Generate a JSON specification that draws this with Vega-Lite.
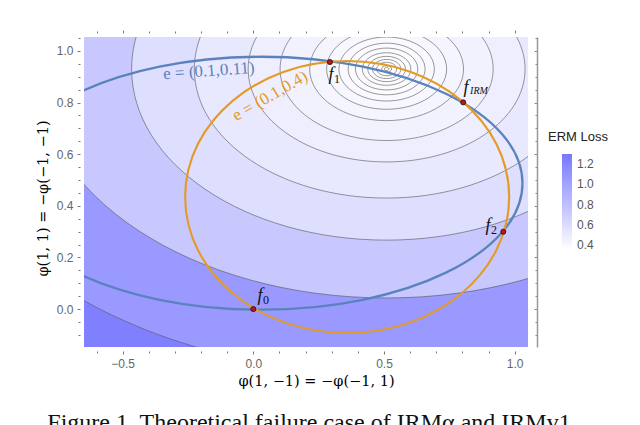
{
  "$schema": "https://vega.github.io/schema/vega-lite/v6.json",
  "width": 444,
  "height": 310,
  "autosize": {"type": "none"},
  "padding": {"left": 84, "top": 37, "right": 112, "bottom": 78},
  "background": "#ffffff",
  "title": {"text": "Figure 1. Theoretical failure case of IRMα and IRMv1.", "orient": "bottom", "anchor": "middle", "frame": "group", "font": "Liberation Serif", "fontSize": 24, "fontWeight": "normal", "color": "#111111", "offset": 23, "dx": 6},
  "config": {"view": {"stroke": null, "fill": "#8080ff"}, "font": "Liberation Sans"},
  "datasets": {
    "contours_outer": [
      {"x": 0.51, "y": 0.93, "b": 1.18, "loss": 1.07},
      {"x": 0.51, "y": 0.93, "b": 0.887, "loss": 0.74}
    ],
    "contours_inner": [
      {"x": 0.51, "y": 0.93, "b": 0.663, "loss": 0.585},
      {"x": 0.51, "y": 0.93, "b": 0.5, "loss": 0.515},
      {"x": 0.51, "y": 0.93, "b": 0.36, "loss": 0.47},
      {"x": 0.51, "y": 0.93, "b": 0.277, "loss": 0.44},
      {"x": 0.51, "y": 0.93, "b": 0.2, "loss": 0.42},
      {"x": 0.51, "y": 0.93, "b": 0.156, "loss": 0.405},
      {"x": 0.51, "y": 0.93, "b": 0.124, "loss": 0.395},
      {"x": 0.51, "y": 0.93, "b": 0.1, "loss": 0.385},
      {"x": 0.51, "y": 0.93, "b": 0.081, "loss": 0.378},
      {"x": 0.51, "y": 0.93, "b": 0.063, "loss": 0.372},
      {"x": 0.51, "y": 0.93, "b": 0.049, "loss": 0.367},
      {"x": 0.51, "y": 0.93, "b": 0.037, "loss": 0.363},
      {"x": 0.51, "y": 0.93, "b": 0.026, "loss": 0.36},
      {"x": 0.51, "y": 0.93, "b": 0.013, "loss": 0.357},
      {"x": 0.51, "y": 0.93, "b": 0.006, "loss": 0.355}
    ],
    "blue": [{"x": 0.03, "y": 0.4875, "b": 0.49}],
    "orange": [{"x": 0.359, "y": 0.434, "b": 0.527}],
    "blue_label": [{"x": -0.17, "y": 0.922, "label": "e = (0.1,0.11)"}],
    "orange_label": [{"x": 0.064, "y": 0.825, "label": "e = (0.1,0.4)"}],
    "points": [
      {"x": 0.0, "y": 0.0, "name": "f0"},
      {"x": 0.293, "y": 0.957, "name": "f1"},
      {"x": 0.803, "y": 0.801, "name": "fIRM"},
      {"x": 0.9565, "y": 0.2997, "name": "f2"}
    ],
    "point_labels": [
      {"x": 0.0255, "y": 0.0506, "sub": "0"},
      {"x": 0.297, "y": 0.907, "sub": "1"},
      {"x": 0.814, "y": 0.856, "sub": "IRM"},
      {"x": 0.898, "y": 0.322, "sub": "2"}
    ],
    "subs_digits": [
      {"x": 0.0255, "y": 0.0506, "sub": "0"},
      {"x": 0.297, "y": 0.907, "sub": "1"},
      {"x": 0.898, "y": 0.322, "sub": "2"}
    ],
    "subs_irm": [
      {"x": 0.814, "y": 0.856, "sub": "IRM"}
    ]
  },
  "resolve": {"axis": {"x": "independent", "y": "independent"}},
  "layer": [
    {
      "data": {"name": "contours_outer"},
      "mark": {"type": "point", "shape": "M1.53,0C1.53,0.5523,0.845,1,0,1C-0.845,1,-1.53,0.5523,-1.53,0C-1.53,-0.5523,-0.845,-1,0,-1C0.845,-1,1.53,-0.5523,1.53,0Z", "filled": true, "stroke": "#555555", "strokeWidth": 0.7, "strokeOpacity": 0.85, "opacity": 1, "clip": true},
      "encoding": {
        "x": {"field": "x", "type": "quantitative", "scale": {"domain": [-0.648, 1.051], "nice": false, "zero": false},
          "axis": {"orient": "bottom", "values": [-0.6, -0.5, -0.4, -0.3, -0.2, -0.1, 0, 0.1, 0.2, 0.3, 0.4, 0.5, 0.6, 0.7, 0.8, 0.9, 1.0], "domain": false, "grid": false, "offset": 4,
            "tickSize": {"condition": {"test": "abs(datum.value*2-round(datum.value*2))<0.001", "value": 3}, "value": 2},
            "tickColor": "#777777", "tickWidth": 1,
            "labelExpr": "abs(datum.value*2-round(datum.value*2))<0.001 ? format(datum.value,'.1f') : ''",
            "labelOverlap": false, "labelFlush": false, "labelFont": "Liberation Sans", "labelFontSize": 12, "labelColor": "#666666", "labelPadding": 4,
            "title": "φ(1, −1) = −φ(−1, 1)", "titleFont": "DejaVu Serif", "titleFontSize": 14.5, "titleFontWeight": "normal", "titleColor": "#000000", "titlePadding": 5, "titleX": 232}},
        "y": {"field": "y", "type": "quantitative", "scale": {"domain": [-0.147, 1.054], "nice": false, "zero": false},
          "axis": {"orient": "left", "values": [-0.1, -0.05, 0, 0.05, 0.1, 0.15, 0.2, 0.25, 0.3, 0.35, 0.4, 0.45, 0.5, 0.55, 0.6, 0.65, 0.7, 0.75, 0.8, 0.85, 0.9, 0.95, 1.0, 1.05], "domain": false, "grid": false, "offset": 4,
            "tickSize": {"condition": {"test": "abs(datum.value*5-round(datum.value*5))<0.001", "value": 3}, "value": 2},
            "tickColor": "#777777", "tickWidth": 1,
            "labelExpr": "abs(datum.value*5-round(datum.value*5))<0.001 ? format(datum.value,'.1f') : ''",
            "labelOverlap": false, "labelFlush": false, "labelFont": "Liberation Sans", "labelFontSize": 12, "labelColor": "#666666", "labelPadding": 4,
            "title": "φ(1, 1) = −φ(−1, −1)", "titleFont": "DejaVu Serif", "titleFontSize": 14.5, "titleFontWeight": "normal", "titleColor": "#000000", "titlePadding": 6, "titleY": 161}},
        "size": {"field": "b", "type": "quantitative", "scale": {"type": "pow", "exponent": 2, "domain": [0, 1], "range": [0, 266506], "zero": true}, "legend": null},
        "fill": {"field": "loss", "type": "quantitative", "scale": {"domain": [0.35, 1.3], "range": ["#ffffff", "#7878ff"], "interpolate": "rgb"},
          "legend": {"orient": "none", "legendX": 464, "legendY": 94, "title": "ERM Loss", "titleFont": "Liberation Sans", "titleFontSize": 13, "titleFontWeight": "normal", "titleColor": "#222222", "titleAnchor": "middle", "titlePadding": 10, "gradientLength": 96, "gradientThickness": 10, "gradientStrokeWidth": 0, "labelFont": "Liberation Sans", "labelFontSize": 12, "labelColor": "#555555", "labelOffset": 5, "labelOverlap": false, "values": [0.4, 0.6, 0.8, 1.0, 1.2], "format": ".1f", "direction": "vertical", "padding": 0}}
      }
    },
    {
      "data": {"name": "contours_inner"},
      "mark": {"type": "point", "shape": "M1.49,0C1.49,0.5523,0.8229,1,0,1C-0.8229,1,-1.49,0.5523,-1.49,0C-1.49,-0.5523,-0.8229,-1,0,-1C0.8229,-1,1.49,-0.5523,1.49,0Z", "filled": true, "stroke": "#555555", "strokeWidth": 0.7, "strokeOpacity": 0.85, "opacity": 1, "clip": true},
      "encoding": {
        "x": {"field": "x", "type": "quantitative", "scale": {"domain": [-0.648, 1.051], "nice": false, "zero": false},
          "axis": {"orient": "top", "values": [-0.6, -0.5, -0.4, -0.3, -0.2, -0.1, 0, 0.1, 0.2, 0.3, 0.4, 0.5, 0.6, 0.7, 0.8, 0.9, 1.0], "domain": false, "grid": false, "offset": 4, "labels": false, "title": null,
            "tickSize": {"condition": {"test": "abs(datum.value*2-round(datum.value*2))<0.001", "value": 3}, "value": 2},
            "tickColor": "#777777", "tickWidth": 1}},
        "y": {"field": "y", "type": "quantitative", "scale": {"domain": [-0.147, 1.054], "nice": false, "zero": false},
          "axis": {"orient": "right", "values": [-0.1, -0.05, 0, 0.05, 0.1, 0.15, 0.2, 0.25, 0.3, 0.35, 0.4, 0.45, 0.5, 0.55, 0.6, 0.65, 0.7, 0.75, 0.8, 0.85, 0.9, 0.95, 1.0, 1.05], "domain": true, "domainColor": "#999999", "domainWidth": 1.5, "grid": false, "offset": 9, "labels": false, "title": null,
            "tickSize": {"condition": {"test": "abs(datum.value*5-round(datum.value*5))<0.001", "value": -3}, "value": -2},
            "tickColor": "#888888", "tickWidth": 1}},
        "size": {"field": "b", "type": "quantitative", "scale": {"type": "pow", "exponent": 2, "domain": [0, 1], "range": [0, 266506], "zero": true}, "legend": null},
        "fill": {"field": "loss", "type": "quantitative", "scale": {"domain": [0.35, 1.3], "range": ["#ffffff", "#7878ff"], "interpolate": "rgb"}}
      }
    },
    {
      "data": {"name": "blue"},
      "mark": {"type": "point", "shape": "M2.066,0C2.066,0.5523,1.141,1,0,1C-1.141,1,-2.066,0.5523,-2.066,0C-2.066,-0.5523,-1.141,-1,0,-1C1.141,-1,2.066,-0.5523,2.066,0Z", "filled": false, "color": "#5a83bd", "strokeWidth": 2.3, "opacity": 1, "clip": true},
      "encoding": {
        "x": {"field": "x", "type": "quantitative", "scale": {"domain": [-0.648, 1.051], "nice": false, "zero": false}, "axis": null},
        "y": {"field": "y", "type": "quantitative", "scale": {"domain": [-0.147, 1.054], "nice": false, "zero": false}, "axis": null},
        "size": {"field": "b", "type": "quantitative", "scale": {"type": "pow", "exponent": 2, "domain": [0, 1], "range": [0, 266506], "zero": true}, "legend": null}
      }
    },
    {
      "data": {"name": "orange"},
      "mark": {"type": "point", "shape": "M1.191,0C1.191,0.5523,0.6578,1,0,1C-0.6578,1,-1.191,0.5523,-1.191,0C-1.191,-0.5523,-0.6578,-1,0,-1C0.6578,-1,1.191,-0.5523,1.191,0Z", "filled": false, "color": "#e39b25", "strokeWidth": 2.1, "opacity": 1, "clip": true},
      "encoding": {
        "x": {"field": "x", "type": "quantitative", "scale": {"domain": [-0.648, 1.051], "nice": false, "zero": false}, "axis": null},
        "y": {"field": "y", "type": "quantitative", "scale": {"domain": [-0.147, 1.054], "nice": false, "zero": false}, "axis": null},
        "size": {"field": "b", "type": "quantitative", "scale": {"type": "pow", "exponent": 2, "domain": [0, 1], "range": [0, 266506], "zero": true}, "legend": null}
      }
    },
    {
      "data": {"name": "blue_label"},
      "mark": {"type": "text", "font": "Liberation Serif", "fontSize": 17, "color": "#5a83bd", "angle": 356, "align": "center", "baseline": "middle"},
      "encoding": {
        "x": {"field": "x", "type": "quantitative", "scale": {"domain": [-0.648, 1.051], "nice": false, "zero": false}, "axis": null},
        "y": {"field": "y", "type": "quantitative", "scale": {"domain": [-0.147, 1.054], "nice": false, "zero": false}, "axis": null},
        "text": {"field": "label", "type": "nominal"}
      }
    },
    {
      "data": {"name": "orange_label"},
      "mark": {"type": "text", "font": "Liberation Serif", "fontSize": 17, "color": "#e39b25", "angle": 330, "align": "center", "baseline": "middle"},
      "encoding": {
        "x": {"field": "x", "type": "quantitative", "scale": {"domain": [-0.648, 1.051], "nice": false, "zero": false}, "axis": null},
        "y": {"field": "y", "type": "quantitative", "scale": {"domain": [-0.147, 1.054], "nice": false, "zero": false}, "axis": null},
        "text": {"field": "label", "type": "nominal"}
      }
    },
    {
      "data": {"name": "points"},
      "mark": {"type": "point", "shape": "circle", "filled": true, "fill": "#c0141c", "stroke": "#111111", "strokeWidth": 0.8, "size": 26, "opacity": 1},
      "encoding": {
        "x": {"field": "x", "type": "quantitative", "scale": {"domain": [-0.648, 1.051], "nice": false, "zero": false}, "axis": null},
        "y": {"field": "y", "type": "quantitative", "scale": {"domain": [-0.147, 1.054], "nice": false, "zero": false}, "axis": null}
      }
    },
    {
      "data": {"name": "point_labels"},
      "mark": {"type": "text", "text": "f", "font": "Liberation Serif", "fontSize": 18, "fontStyle": "italic", "color": "#111111", "align": "center", "baseline": "middle"},
      "encoding": {
        "x": {"field": "x", "type": "quantitative", "scale": {"domain": [-0.648, 1.051], "nice": false, "zero": false}, "axis": null},
        "y": {"field": "y", "type": "quantitative", "scale": {"domain": [-0.147, 1.054], "nice": false, "zero": false}, "axis": null}
      }
    },
    {
      "data": {"name": "subs_digits"},
      "mark": {"type": "text", "font": "Liberation Serif", "fontSize": 12, "color": "#111111", "align": "left", "baseline": "middle", "dx": 3, "dy": 4},
      "encoding": {
        "x": {"field": "x", "type": "quantitative", "scale": {"domain": [-0.648, 1.051], "nice": false, "zero": false}, "axis": null},
        "y": {"field": "y", "type": "quantitative", "scale": {"domain": [-0.147, 1.054], "nice": false, "zero": false}, "axis": null},
        "text": {"field": "sub", "type": "nominal"}
      }
    },
    {
      "data": {"name": "subs_irm"},
      "mark": {"type": "text", "font": "Liberation Serif", "fontSize": 10, "fontStyle": "italic", "color": "#111111", "align": "left", "baseline": "middle", "dx": 4, "dy": 3},
      "encoding": {
        "x": {"field": "x", "type": "quantitative", "scale": {"domain": [-0.648, 1.051], "nice": false, "zero": false}, "axis": null},
        "y": {"field": "y", "type": "quantitative", "scale": {"domain": [-0.147, 1.054], "nice": false, "zero": false}, "axis": null},
        "text": {"field": "sub", "type": "nominal"}
      }
    }
  ]
}
